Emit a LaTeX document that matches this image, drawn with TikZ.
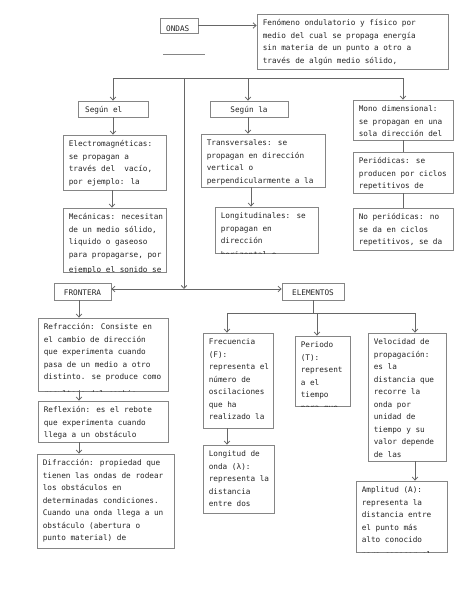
\documentclass[tikz,border=0pt]{standalone}
\usepackage{fontspec}
\newfontfamily\monof{DejaVu Sans Mono}
\usetikzlibrary{arrows.meta,fit}
\definecolor{boxc}{HTML}{858585}
\definecolor{linec}{HTML}{666666}
\definecolor{textc}{HTML}{262626}
\newcommand\mystrut{\rule{0pt}{7pt}}
\tikzset{
  boxst/.style={draw=boxc, line width=0.8pt, inner sep=0pt, fill=white},
  txt/.style={font=\monof\fontsize{7.7}{12.5}\selectfont, align=left, anchor=north west, inner sep=0pt, text=textc},
  lbl/.style={font=\monof\fontsize{7.7}{12.5}\selectfont, inner sep=0pt, text=textc},
  ln/.style={draw=linec, line width=0.8pt},
  arr/.style={ln, -{Straight Barb[length=3pt,width=5.5pt]}},
  darr/.style={ln, {Straight Barb[length=3pt,width=5.5pt]}-{Straight Barb[length=3pt,width=5.5pt]}},
}
\newcommand\tbox[6]{%
  \node[boxst, fit={(#2,#3)(#4,#5)}] (#1) {};
  \begin{scope}
    \clip (#1.south west) rectangle (#1.north east);
    \node[txt] (#1t) at ([shift={(6pt,-5pt)}]#1.north west) {\mystrut#6};
  \end{scope}}
\begin{document}
\begin{tikzpicture}[x=1pt,y=-1pt]
\useasboundingbox[fill=white] (0,0) rectangle (474,613);

% title
\node[boxst, fit={(160,18)(198,33)}] (ondas) {};
\begin{scope}
  \clip (ondas.south west) rectangle (ondas.north east);
  \node[lbl, anchor=base west] (ondast) at (166,31.5) {ONDAS};
\end{scope}
\draw[draw=boxc, line width=0.9pt] (163,54) -- (205,54);

\tbox{desc}{257}{14}{448}{69}{Fenómeno ondulatorio y físico por\\medio del cual se propaga energía\\sin materia de un punto a otro a\\través de algún medio sólido,}
\draw[arr] (ondas.east) -- (ondas.east -| desc.west);

% first level
\node[boxst, fit={(78,101)(148,117)}] (segel) {};
\node[lbl, anchor=base west] (segelt) at (85,112) {Según el};
\node[boxst, fit={(210,101)(288,117)}] (segla) {};
\node[lbl, anchor=base] (seglat) at (249,112) {Según la};

\tbox{mono}{353}{100}{453}{140}{Mono dimensional:\\se propagan en una\\sola dirección del}
\tbox{period}{353}{152}{453}{193}{Periódicas: se\\producen por ciclos\\repetitivos de}
\tbox{noper}{353}{208}{453}{250}{No periódicas: no\\se da en ciclos\\repetitivos, se da}

\tbox{electro}{63}{135}{166}{190}{Electromagnéticas:\\se propagan a\\través del\ \ vacío,\\por ejemplo: la}
\tbox{mecan}{63}{208}{166}{272}{Mecánicas: necesitan\\de un medio sólido,\\liquido o gaseoso\\para propagarse, por\\[3pt]ejemplo el sonido se}
\tbox{trans}{201}{134}{325}{187}{Transversales: se\\propagan en dirección\\vertical o\\perpendicularmente a la}
\tbox{longi}{215}{207}{318}{253}{Longitudinales: se\\propagan en\\dirección\\[1pt]horizontal o}

% bus
\coordinate (busL) at (113,78);
\coordinate (busM) at (184,78);
\coordinate (busLa) at (248,78);
\coordinate (busR) at (403,78);
\draw[ln] (busL) -- (busR);
\draw[arr] (busL) -- (busL |- segel.north);
\draw[arr] (busLa) -- (busLa |- segla.north);
\draw[arr] (busR) -- (busR |- mono.north);
\draw[ln] (mono.south -| busR) -- (period.north -| busR);
\draw[ln] (period.south -| busR) -- (noper.north -| busR);
\draw[arr] (segel.south -| busL) -- (busL |- electro.north);
\coordinate (cE) at (112,0);
\draw[arr] (electro.south -| cE) -- (mecan.north -| cE);
\draw[arr] (segla.south -| busLa) -- (busLa |- trans.north);
\coordinate (cT) at (251,0);
\draw[arr] (trans.south -| cT) -- (longi.north -| cT);

% second level
\node[boxst, fit={(54,283)(111,300)}] (frontera) {};
\node[lbl, anchor=base] (fronterat) at (82.5,295) {FRONTERA};
\node[boxst, fit={(282,283)(344,300)}] (elementos) {};
\node[lbl, anchor=base] (elementost) at (313,295) {ELEMENTOS};
\coordinate (midj) at (184,289);
\draw[arr] (busM) -- (midj);
\draw[darr] (frontera.east |- midj) -- (elementos.west |- midj);

\tbox{refr}{38}{318}{168}{391}{Refracción: Consiste en\\el cambio de dirección\\que experimenta cuando\\pasa de un medio a otro\\distinto. se produce como\\[4.5pt]resultado del cambio}
\tbox{refl}{38}{401}{168}{442}{Reflexión: es el rebote\\que experimenta cuando\\llega a un obstáculo}
\tbox{difr}{37}{454}{174}{548}{Difracción: propiedad que\\tienen las ondas de rodear\\los obstáculos en\\determinadas condiciones.\\Cuando una onda llega a un\\obstáculo (abertura o\\punto material) de}
\coordinate (cF) at (79,0);
\draw[arr] (frontera.south -| cF) -- (refr.north -| cF);
\draw[arr] (refr.south -| cF) -- (refl.north -| cF);
\draw[arr] (refl.south -| cF) -- (difr.north -| cF);

\tbox{frec}{203}{333}{273}{428}{Frecuencia\\(F):\\representa el\\número de\\oscilaciones\\que ha\\realizado la\\[3.5pt]onda}
\tbox{peri}{295}{336}{350}{406}{Periodo\\(T):\\represent\\a el\\tiempo\\para que}
\tbox{longw}{203}{445}{274}{513}{Longitud de\\onda (λ):\\representa la\\distancia\\entre dos}
\tbox{velo}{368}{333}{446}{461}{Velocidad de\\propagación:\\es la\\distancia que\\recorre la\\onda por\\unidad de\\tiempo y su\\valor depende\\de las}
\tbox{amp}{356}{481}{447}{552}{Amplitud (A):\\representa la\\distancia entre\\el punto más\\alto conocido\\[2.5pt]para conocer el}

\coordinate (b2L) at (227,313);
\coordinate (b2M) at (317,313);
\coordinate (b2R) at (415,313);
\draw[ln] (elementos.south) -- (elementos.south |- b2L);
\draw[ln] (b2L) -- (b2R);
\draw[arr] (b2L) -- (b2L |- frec.north);
\draw[arr] (b2M) -- (b2M |- peri.north);
\draw[arr] (b2R) -- (b2R |- velo.north);
\draw[arr] (frec.south -| b2L) -- (longw.north -| b2L);
\draw[arr] (velo.south -| b2R) -- (amp.north -| b2R);
\end{tikzpicture}
\end{document}
